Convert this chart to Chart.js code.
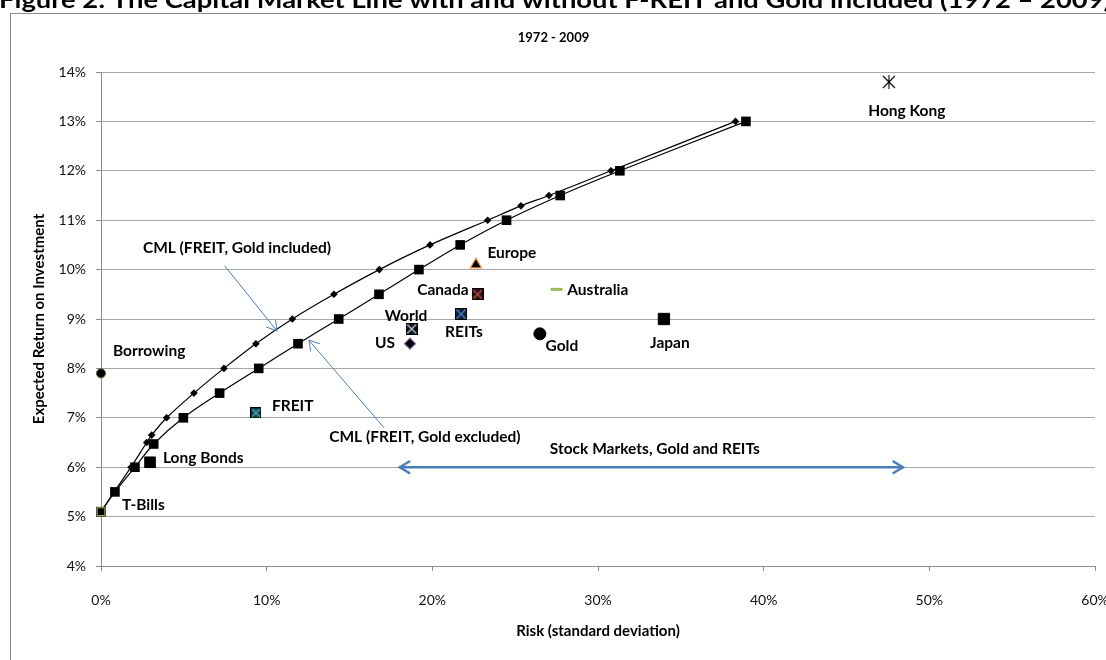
<!DOCTYPE html>
<html>
<head>
<meta charset="utf-8">
<script src="https://cdn.jsdelivr.net/npm/chart.js@4.4.1/dist/chart.umd.min.js"></script>
<style>
  body { margin: 0; background: #fff; }
  #wrap { width: 1106px; height: 660px; position: relative; }
</style>
</head>
<body>
<div id="wrap"><canvas id="mycanvas"></canvas></div>
<script>
// CML with FREIT and gold included (risk %, return %)
var inclRisk   = [0, 0.80, 1.81, 2.76, 3.06, 3.96, 5.61, 7.42, 9.35, 11.55, 14.06, 16.80, 19.86, 23.34, 25.35, 27.04, 30.78, 38.30];
var inclReturn = [5.1, 5.5, 6.0, 6.5, 6.65, 7.0, 7.5, 8.0, 8.5, 9.0, 9.5, 10.0, 10.5, 11.0, 11.29, 11.5, 12.0, 13.0];

// CML with FREIT and gold excluded
var exclRisk   = [0, 0.84, 2.05, 3.18, 4.97, 7.16, 9.52, 11.89, 14.35, 16.78, 19.19, 21.68, 24.48, 27.72, 31.32, 38.93];
var exclReturn = [5.1, 5.5, 6.0, 6.47, 7.0, 7.5, 8.0, 8.5, 9.0, 9.5, 10.0, 10.5, 11.0, 11.5, 12.0, 13.0];

// single assets
var assetNames  = ['T-Bills', 'Borrowing', 'Long Bonds', 'FREIT', 'US', 'World', 'REITs', 'Canada', 'Europe', 'Australia', 'Gold', 'Japan', 'Hong Kong'];
var assetRisk   = [0, 0, 2.96, 9.35, 18.65, 18.75, 21.73, 22.73, 22.63, 27.5, 26.49, 33.98, 47.56];
var assetReturn = [5.1, 7.9, 6.1, 7.1, 8.5, 8.8, 9.1, 9.5, 10.1, 9.6, 8.7, 9.0, 13.8];

var xTicks = [0, 10, 20, 30, 40, 50, 60];
var yTicks = [4, 5, 6, 7, 8, 9, 10, 11, 12, 13, 14];

var FONT = 'Lato, "Open Sans", sans-serif';

function toPoints(xs, ys) {
  var out = [];
  for (var i in xs) out.push({x: xs[i], y: ys[i]});
  return out;
}

// little canvases for the Excel-like markers
function mk(w, h, draw) {
  var c = document.createElement('canvas');
  c.width = w; c.height = h;
  draw(c.getContext('2d'), w, h);
  return c;
}
function boxX(size, fill, xColor) {
  return mk(size, size, function(ctx, w, h) {
    ctx.fillStyle = fill;
    ctx.fillRect(0, 0, w, h);
    ctx.strokeStyle = '#000';
    ctx.lineWidth = 1;
    ctx.strokeRect(0.5, 0.5, w - 1, h - 1);
    ctx.strokeStyle = xColor;
    ctx.lineWidth = 1.3;
    ctx.beginPath();
    ctx.moveTo(1.5, 1.5); ctx.lineTo(w - 1.5, h - 1.5);
    ctx.moveTo(w - 1.5, 1.5); ctx.lineTo(1.5, h - 1.5);
    ctx.stroke();
  });
}
var hkStar = mk(14, 14, function(ctx, w, h) {
  ctx.strokeStyle = '#000';
  ctx.lineWidth = 1.1;
  ctx.beginPath();
  ctx.moveTo(1, 1); ctx.lineTo(13, 13);
  ctx.moveTo(13, 1); ctx.lineTo(1, 13);
  ctx.moveTo(7, 0); ctx.lineTo(7, 14);
  ctx.stroke();
});

var markerStyle = {
  'T-Bills':    {pointStyle: 'rect', radius: 5.5, bg: '#000', border: '#9bbb59', bw: 1},
  'Borrowing':  {pointStyle: 'circle', radius: 4.5, bg: '#000', border: '#4f6228', bw: 1},
  'Long Bonds': {pointStyle: 'rect', radius: 7.5, bg: '#000', border: '#000', bw: 1},
  'FREIT':      {pointStyle: boxX(11, '#17414d', '#4bacc6'), radius: 6},
  'US':         {pointStyle: 'rectRot', radius: 5.5, bg: '#000', border: '#8064a2', bw: 1.2},
  'World':      {pointStyle: boxX(12, '#111', '#b9cde5'), radius: 6},
  'REITs':      {pointStyle: boxX(12, '#10243f', '#4f81bd'), radius: 6},
  'Canada':     {pointStyle: boxX(12, '#2b1414', '#c0504d'), radius: 6},
  'Europe':     {pointStyle: 'triangle', radius: 6.5, bg: '#000', border: '#f79646', bw: 1.2},
  'Australia':  {pointStyle: 'line', radius: 6, bg: '#9bbb59', border: '#9bbb59', bw: 3},
  'Gold':       {pointStyle: 'circle', radius: 6, bg: '#000', border: '#000', bw: 1},
  'Japan':      {pointStyle: 'rect', radius: 8, bg: '#000', border: '#000', bw: 1},
  'Hong Kong':  {pointStyle: hkStar, radius: 7}
};

// text notes and arrows, placed in data units
var notes = [
  {text: 'Borrowing', x: 0.72, y: 8.35, align: 'left'},
  {text: 'CML (FREIT, Gold included)', x: 8.21, y: 10.44, align: 'center'},
  {text: 'CML (FREIT, Gold excluded)', x: 19.55, y: 6.62, align: 'center'},
  {text: 'FREIT', x: 10.32, y: 7.24, align: 'left'},
  {text: 'Long Bonds', x: 3.74, y: 6.19, align: 'left'},
  {text: 'T-Bills', x: 1.27, y: 5.23, align: 'left'},
  {text: 'World', x: 18.41, y: 9.07, align: 'center'},
  {text: 'US', x: 17.14, y: 8.52, align: 'center'},
  {text: 'REITs', x: 21.91, y: 8.73, align: 'center'},
  {text: 'Canada', x: 20.64, y: 9.59, align: 'center'},
  {text: 'Europe', x: 24.8, y: 10.33, align: 'center'},
  {text: 'Australia', x: 29.99, y: 9.58, align: 'center'},
  {text: 'Gold', x: 27.82, y: 8.45, align: 'center'},
  {text: 'Japan', x: 34.34, y: 8.51, align: 'center'},
  {text: 'Hong Kong', x: 48.64, y: 13.22, align: 'center'},
  {text: 'Stock Markets, Gold and REITs', x: 33.43, y: 6.37, align: 'center'}
];
var arrows = [
  {from: [7.48, 10.07], to: [10.62, 8.76], width: 1, head: 11, both: false},
  {from: [17.08, 6.8], to: [12.55, 8.57], width: 1, head: 11, both: false},
  {from: [18.04, 6.0], to: [48.4, 6.0], width: 2.5, head: 11, both: true}
];

var datasets = [];
for (var i in assetNames) {
  var st = markerStyle[assetNames[i]];
  datasets.push({
    label: assetNames[i],
    data: [{x: assetRisk[i], y: assetReturn[i]}],
    pointStyle: st.pointStyle,
    pointRadius: st.radius,
    pointHoverRadius: st.radius,
    backgroundColor: st.bg || '#000',
    borderColor: st.border || '#000',
    pointBorderWidth: st.bw || 0,
    showLine: false,
    clip: false
  });
}
datasets.push({
  label: 'CML (FREIT, Gold included)',
  data: toPoints(inclRisk, inclReturn),
  showLine: true,
  tension: 0.3,
  borderColor: '#000',
  borderWidth: 1.2,
  backgroundColor: '#000',
  pointStyle: 'rectRot',
  pointRadius: 3.8,
  pointBorderWidth: 0,
  clip: false
});
datasets.push({
  label: 'CML (FREIT, Gold excluded)',
  data: toPoints(exclRisk, exclReturn),
  showLine: true,
  tension: 0.3,
  borderColor: '#000',
  borderWidth: 1.2,
  backgroundColor: '#000',
  pointStyle: 'rect',
  pointRadius: 6.8,
  pointBorderWidth: 0,
  clip: false
});

function drawArrowHead(ctx, x, y, ang, len) {
  ctx.beginPath();
  ctx.moveTo(x + len * Math.cos(ang + 0.55), y + len * Math.sin(ang + 0.55));
  ctx.lineTo(x, y);
  ctx.lineTo(x + len * Math.cos(ang - 0.55), y + len * Math.sin(ang - 0.55));
  ctx.stroke();
}

var framePlugin = {
  id: 'frame',
  beforeDraw: function(chart) {
    var ctx = chart.ctx;
    ctx.save();
    ctx.fillStyle = '#fff';
    ctx.fillRect(0, 0, chart.width, chart.height);
    ctx.strokeStyle = '#8c8c8c';
    ctx.lineWidth = 1;
    ctx.strokeRect(10.5, 13.5, 1200, 700);
    // figure caption, cut off by the top of the page
    var cap = 'Figure 2: The Capital Market Line with and without F-REIT and Gold included (1972 \u2013 2009)';
    ctx.font = 'bold 23px ' + FONT;
    var w = ctx.measureText(cap).width;
    ctx.translate(-1, 8);
    ctx.scale(1112 / w, 1);
    ctx.fillStyle = '#000';
    ctx.textBaseline = 'alphabetic';
    ctx.fillText(cap, 0, 0);
    ctx.restore();
  }
};

var notesPlugin = {
  id: 'notes',
  afterDatasetsDraw: function(chart) {
    var ctx = chart.ctx, xs = chart.scales.x, ys = chart.scales.y;
    ctx.save();
    ctx.strokeStyle = '#4a7ebb';
    ctx.lineCap = 'round';
    for (var i in arrows) {
      var a = arrows[i];
      var x1 = xs.getPixelForValue(a.from[0]), y1 = ys.getPixelForValue(a.from[1]);
      var x2 = xs.getPixelForValue(a.to[0]), y2 = ys.getPixelForValue(a.to[1]);
      ctx.lineWidth = a.width;
      ctx.beginPath();
      ctx.moveTo(x1, y1); ctx.lineTo(x2, y2);
      ctx.stroke();
      var ang = Math.atan2(y1 - y2, x1 - x2);
      drawArrowHead(ctx, x2, y2, ang, a.head);
      if (a.both) drawArrowHead(ctx, x1, y1, ang + Math.PI, a.head);
    }
    ctx.fillStyle = '#000';
    ctx.font = 'bold 15.5px ' + FONT;
    ctx.textBaseline = 'middle';
    for (var j in notes) {
      var n = notes[j];
      ctx.textAlign = n.align;
      ctx.fillText(n.text, xs.getPixelForValue(n.x), ys.getPixelForValue(n.y));
    }
    ctx.restore();
  }
};

var ctx = document.getElementById('mycanvas');
var chart = new Chart(ctx, {
  type: 'scatter',
  data: {datasets: datasets},
  plugins: [framePlugin, notesPlugin],
  options: {
    responsive: true,
    maintainAspectRatio: false,
    animation: false,
    layout: {padding: {left: 12, top: 17, right: 11, bottom: 0}},
    plugins: {
      legend: {display: false},
      tooltip: {enabled: false},
      title: {
        display: true,
        text: '1972 - 2009',
        color: '#000',
        font: {family: FONT, size: 13, weight: 'bold'},
        padding: {top: 13, bottom: 26.4}
      }
    },
    scales: {
      x: {
        type: 'linear',
        min: 0, max: 60,
        afterBuildTicks: function(s) { s.ticks = xTicks.map(function(v) { return {value: v}; }); },
        afterFit: function(s) { s.height = 94; s.paddingLeft = 0; s.paddingRight = 0; },
        ticks: {
          color: '#111',
          font: {family: FONT, size: 14},
          padding: 21,
          maxRotation: 0,
          callback: function(v) { return v + '%'; }
        },
        grid: {drawOnChartArea: false, drawTicks: true, tickLength: 5, color: '#8c8c8c'},
        border: {color: '#8c8c8c'},
        title: {
          display: true,
          text: 'Risk (standard deviation)',
          color: '#000',
          font: {family: FONT, size: 15, weight: 'bold'},
          padding: {top: 0, bottom: 20}
        }
      },
      y: {
        type: 'linear',
        min: 4, max: 14,
        afterBuildTicks: function(s) { s.ticks = yTicks.map(function(v) { return {value: v}; }); },
        afterFit: function(s) { s.width = 89; s.paddingTop = 0; s.paddingBottom = 0; },
        ticks: {
          color: '#111',
          font: {family: FONT, size: 14},
          padding: 10,
          callback: function(v) { return v + '%'; }
        },
        grid: {color: '#a6a6a6', tickLength: 5, tickColor: '#8c8c8c'},
        border: {color: '#8c8c8c'},
        title: {
          display: true,
          text: 'Expected Return on Investment',
          color: '#000',
          font: {family: FONT, size: 15, weight: 'bold'},
          padding: {top: 18.5, bottom: 0}
        }
      }
    }
  }
});
</script>
</body>
</html>
